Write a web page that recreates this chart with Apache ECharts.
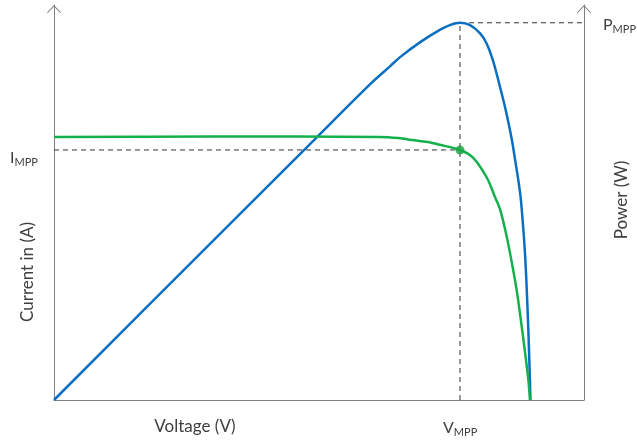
<!DOCTYPE html>
<html>
<head>
<meta charset="utf-8">
<script src="https://cdn.jsdelivr.net/npm/echarts@6/dist/echarts.min.js"></script>
<style>
  html, body { margin: 0; padding: 0; background: #fff; }
  #chart { width: 637px; height: 446px; }
</style>
</head>
<body>
<div id="chart"></div>
<script>
// Voltage on x (0..100), current / power on y (0..100), arbitrary units
const powerCurve = [
  [0, 0], [30, 40.3], [49.2, 66.0], [60, 80.4], [63.5, 84.6], [65.3, 86.8],
  [69.1, 90.6], [72.8, 93.7], [74.7, 94.9], [76.6, 95.5], [78.5, 94.9],
  [80.4, 92.8], [81.6, 90.3], [82.9, 85.6], [84.2, 79.0], [85.3, 73.0],
  [86.4, 65.8], [87.0, 60.8], [87.6, 55.7], [88.1, 50.6], [88.9, 36.3],
  [89.5, 17.7], [89.9, 0]
]
const currentCurve = [
  [0, 66.6], [30, 66.7], [61.5, 66.6], [65, 66.3], [67.7, 65.8], [70.5, 65.3],
  [72.8, 64.6], [76.6, 63.3], [79.1, 61.3], [81.7, 56.2], [83.2, 51.4],
  [84.2, 48.1], [85.1, 43.3], [86.0, 37.5], [87.3, 27.8], [88.5, 16.0],
  [89.5, 5.1], [89.8, 0]
]
const vMpp = 76.6
const iMpp = 63.3
const pMpp = 95.5

const axisGray = '#808080'
const dashGray = '#333333'
const textGray = '#404040'
const arrow = 'path://M0,7.5 L7,0 L14,7.5 L13.2,8.2 L7,1.6 L0.8,8.2 Z'

const chart = echarts.init(document.getElementById('chart'))

const dashed = {
  type: 'line',
  symbol: 'none',
  silent: true,
  lineStyle: { color: dashGray, width: 1, type: [5, 4] },
  z: 1
}

const subText = function(main, sub) {
  return {
    text: '{a|' + main + '}{b|' + sub + '}',
    rich: {
      a: { fontSize: 16, fontFamily: 'Lato', fill: textGray, lineHeight: 20 },
      b: { fontSize: 11, fontFamily: 'Lato', fill: textGray, lineHeight: 20, padding: [8, 0, 0, 0] }
    }
  }
}

const axisLineWithArrow = {
  show: true,
  onZero: false,
  symbol: ['none', arrow],
  symbolSize: [14, 8.2],
  symbolOffset: [0, -4],
  lineStyle: { color: axisGray, width: 1 }
}

chart.setOption({
  animation: false,
  grid: { left: 54, right: 53, top: 5, bottom: 46 },
  xAxis: {
    type: 'value',
    min: 0,
    max: 100,
    axisLine: { show: true, onZero: false, lineStyle: { color: axisGray, width: 1 } },
    axisTick: { show: false },
    axisLabel: { show: false },
    splitLine: { show: false }
  },
  yAxis: [
    {
      type: 'value',
      min: 0,
      max: 100,
      position: 'left',
      axisLine: axisLineWithArrow,
      axisTick: { show: false },
      axisLabel: { show: false },
      splitLine: { show: false }
    },
    {
      type: 'value',
      min: 0,
      max: 100,
      position: 'right',
      axisLine: axisLineWithArrow,
      axisTick: { show: false },
      axisLabel: { show: false },
      splitLine: { show: false }
    }
  ],
  series: [
    Object.assign({}, dashed, { data: [[0, iMpp], [vMpp, iMpp]] }),
    Object.assign({}, dashed, { data: [[vMpp, 0], [vMpp, pMpp]] }),
    Object.assign({}, dashed, { data: [[vMpp, pMpp], [100, pMpp]] }),
    {
      name: 'Power',
      type: 'line',
      data: powerCurve,
      smooth: 0.3,
      symbol: 'none',
      lineStyle: { color: '#0a6fc2', width: 2.5 },
      z: 3
    },
    {
      name: 'Current',
      type: 'line',
      data: currentCurve,
      smooth: 0.3,
      symbol: 'none',
      lineStyle: { color: '#14b04c', width: 2.5 },
      z: 4
    },
    {
      type: 'scatter',
      data: [[vMpp, iMpp]],
      symbolSize: 9,
      itemStyle: { color: '#16a43f' },
      z: 5
    }
  ],
  graphic: [
    {
      type: 'text', x: 28, y: 272, rotation: Math.PI / 2,
      style: { text: 'Current in (A)', fontSize: 17, fontFamily: 'Lato', fill: textGray, align: 'center', verticalAlign: 'middle' }
    },
    {
      type: 'text', x: 622, y: 200, rotation: Math.PI / 2,
      style: { text: 'Power (W)', fontSize: 17, fontFamily: 'Lato', fill: textGray, align: 'center', verticalAlign: 'middle' }
    },
    {
      type: 'text', x: 195, y: 427,
      style: { text: 'Voltage (V)', fontSize: 17, fontFamily: 'Lato', fill: textGray, align: 'center', verticalAlign: 'middle' }
    },
    {
      type: 'text', x: 443, y: 418,
      style: subText('V', 'MPP')
    },
    {
      type: 'text', x: 10, y: 148,
      style: subText('I', 'MPP')
    },
    {
      type: 'text', x: 603, y: 15,
      style: subText('P', 'MPP')
    }
  ]
})
</script>
</body>
</html>
